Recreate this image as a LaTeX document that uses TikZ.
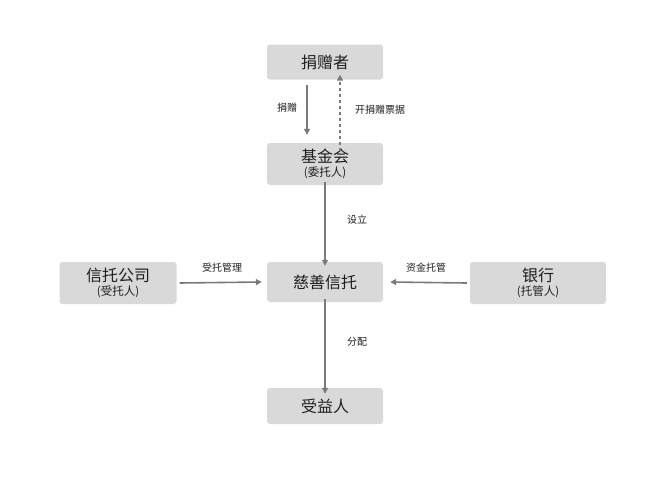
\documentclass[tikz,border=0pt]{standalone}
\usepackage{fontspec}
\setmainfont{Noto Sans CJK SC}
\usetikzlibrary{arrows.meta}
\definecolor{boxg}{HTML}{D9D9D9}
\definecolor{arrg}{HTML}{7A7A7A}
\definecolor{txt}{HTML}{1E1E1E}
\tikzset{
  box/.style={fill=boxg,rounded corners=3pt,minimum width=116pt,text=txt,align=center,font=\fontsize{16}{17}\selectfont},
  sub/.style={font=\fontsize{11.5}{12}\selectfont},
  arr/.style={draw=arrg,line width=1.6pt,-{Triangle[length=6pt,width=6pt]}},
  lab/.style={text=txt,font=\fontsize{10}{11}\selectfont}
}
\begin{document}
\begin{tikzpicture}[x=1pt,y=-1pt]
\useasboundingbox[fill=white] (0,0) rectangle (650,488);
\node[box,minimum height=35pt] (donor) at (325,62) {捐赠者};
\node[box,minimum height=42pt] (found) at (325,164) {基金会\\[-3pt]{\fontsize{11.5}{12}\selectfont (委托人)}};
\node[box,minimum height=40pt] (trust) at (325,282) {慈善信托};
\node[box,minimum height=36pt] (benef) at (325,406) {受益人};
\node[box,minimum height=42pt,minimum width=117pt] (tco) at (118,283) {信托公司\\[-3pt]{\fontsize{11.5}{12}\selectfont (受托人)}};
\node[box,minimum height=42pt,minimum width=136pt] (bank) at (538,283) {银行\\[-3pt]{\fontsize{11.5}{12}\selectfont (托管人)}};
\draw[arr] ([xshift=-18pt,yshift=-5pt]donor.south) -- ([xshift=-18pt,yshift=8pt]found.north);
\draw[arr,dashed] ([xshift=15pt,yshift=-8pt]found.north) -- ([xshift=15pt,yshift=5pt]donor.south);
\node[lab] at (287,108) {捐赠};
\node[lab] at (380,110) {开捐赠票据};
\draw[arr] ([yshift=3pt]found.south) -- ([yshift=-4pt]trust.north);
\node[lab] at (357,220) {设立};
\draw[arr] ([xshift=3pt]tco.east) -- ([xshift=-5pt]trust.west);
\node[lab] at (222,268) {受托管理};
\draw[arr] ([xshift=-3pt]bank.west) -- ([xshift=7pt]trust.east);
\node[lab] at (426,268) {资金托管};
\draw[arr] ([yshift=3pt]trust.south) -- ([yshift=-6pt]benef.north);
\node[lab] at (357,342) {分配};
\end{tikzpicture}
\end{document}
